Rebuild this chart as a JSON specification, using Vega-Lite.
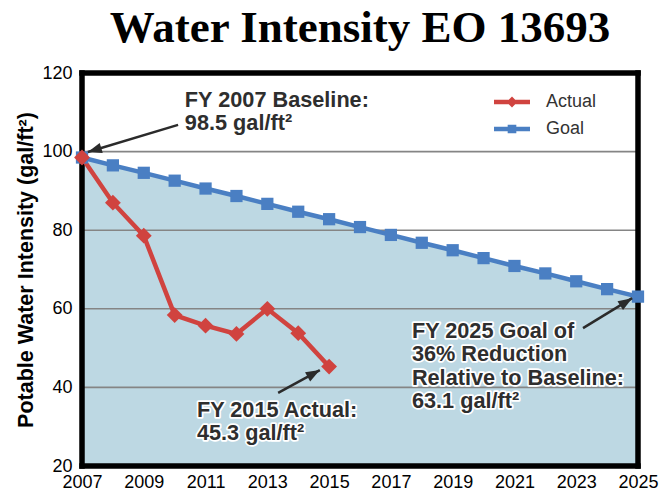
{
  "$schema": "https://vega.github.io/schema/vega-lite/v6.json",
  "width": 556,
  "height": 393,
  "autosize": "none",
  "padding": {"left": 82, "top": 73, "right": 24, "bottom": 29},
  "background": "white",
  "title": {"text": "Water Intensity EO 13693", "font": "Liberation Serif", "fontSize": 45, "fontWeight": "bold", "color": "black", "anchor": "middle", "frame": "group", "baseline": "alphabetic", "offset": -23},
  "config": {
    "view": {"stroke": null},
    "font": "Liberation Sans",
    "axis": {"grid": false, "ticks": false, "domain": false, "labelFont": "Liberation Sans", "labelFontSize": 18, "labelColor": "black", "titleFont": "Liberation Sans", "titleColor": "black"},
    "axisX": {"labelPadding": 7, "labelFlush": false, "labelOverlap": false},
    "axisY": {"labelPadding": 10, "titleFontSize": 21.5, "titleFontWeight": "bold", "titlePadding": 4}
  },
  "datasets": {
    "series": [
      {"year": 2007, "value": 98.5, "series": "Goal"},
      {"year": 2008, "value": 96.5, "series": "Goal"},
      {"year": 2009, "value": 94.6, "series": "Goal"},
      {"year": 2010, "value": 92.6, "series": "Goal"},
      {"year": 2011, "value": 90.6, "series": "Goal"},
      {"year": 2012, "value": 88.7, "series": "Goal"},
      {"year": 2013, "value": 86.7, "series": "Goal"},
      {"year": 2014, "value": 84.7, "series": "Goal"},
      {"year": 2015, "value": 82.8, "series": "Goal"},
      {"year": 2016, "value": 80.8, "series": "Goal"},
      {"year": 2017, "value": 78.8, "series": "Goal"},
      {"year": 2018, "value": 76.8, "series": "Goal"},
      {"year": 2019, "value": 74.9, "series": "Goal"},
      {"year": 2020, "value": 72.9, "series": "Goal"},
      {"year": 2021, "value": 70.9, "series": "Goal"},
      {"year": 2022, "value": 69.0, "series": "Goal"},
      {"year": 2023, "value": 67.0, "series": "Goal"},
      {"year": 2024, "value": 65.0, "series": "Goal"},
      {"year": 2025, "value": 63.1, "series": "Goal"},
      {"year": 2007, "value": 98.5, "series": "Actual"},
      {"year": 2008, "value": 87.0, "series": "Actual"},
      {"year": 2009, "value": 78.6, "series": "Actual"},
      {"year": 2010, "value": 58.4, "series": "Actual"},
      {"year": 2011, "value": 55.7, "series": "Actual"},
      {"year": 2012, "value": 53.6, "series": "Actual"},
      {"year": 2013, "value": 60.0, "series": "Actual"},
      {"year": 2014, "value": 53.8, "series": "Actual"},
      {"year": 2015, "value": 45.3, "series": "Actual"}
    ],
    "grid": [{"value": 40}, {"value": 60}, {"value": 80}, {"value": 100}],
    "arrows": [
      {"arrow": "baseline", "year": 2010.11, "value": 106.8, "year2": 2007.19, "value2": 99.9},
      {"arrow": "actual", "year": 2013.35, "value": 38.6, "year2": 2014.70, "value2": 44.4},
      {"arrow": "goal", "year": 2023.22, "value": 55.1, "year2": 2024.81, "value2": 62.7}
    ],
    "notes": [
      {"text": "FY 2007 Baseline:\n98.5 gal/ft²", "year": 2010.33, "value": 115.7},
      {"text": "FY 2015 Actual:\n45.3 gal/ft²", "year": 2010.72, "value": 36.8},
      {"text": "FY 2025 Goal of\n36% Reduction\nRelative to Baseline:\n63.1 gal/ft²", "year": 2017.68, "value": 56.9}
    ]
  },
  "layer": [
    {
      "data": {"name": "series"},
      "transform": [{"filter": "datum.series === 'Goal'"}],
      "mark": {"type": "area", "color": "#bdd8e3"},
      "encoding": {
        "x": {"field": "year", "type": "quantitative", "scale": {"domain": [2007, 2025], "nice": false},
          "axis": {"title": null, "values": [2007, 2009, 2011, 2013, 2015, 2017, 2019, 2021, 2023, 2025], "format": "d"}},
        "y": {"field": "value", "type": "quantitative", "scale": {"domain": [20, 120], "nice": false, "zero": false},
          "axis": {"title": "Potable Water Intensity (gal/ft²)", "values": [20, 40, 60, 80, 100, 120]}},
        "y2": {"datum": 20}
      }
    },
    {
      "data": {"name": "grid"},
      "mark": {"type": "rule", "color": "#858585", "strokeWidth": 1.6},
      "encoding": {
        "y": {"field": "value", "type": "quantitative", "title": "Potable Water Intensity (gal/ft²)"}
      }
    },
    {
      "data": {"values": [{}]},
      "mark": {"type": "rule", "color": "black", "strokeWidth": 5.5, "strokeCap": "square"},
      "encoding": {"x": {"datum": 2007, "type": "quantitative"}}
    },
    {
      "data": {"values": [{}]},
      "mark": {"type": "rule", "color": "black", "strokeWidth": 5.5, "strokeCap": "square"},
      "encoding": {"x": {"datum": 2025, "type": "quantitative"}}
    },
    {
      "data": {"values": [{}]},
      "mark": {"type": "rule", "color": "black", "strokeWidth": 5.5, "strokeCap": "square"},
      "encoding": {"y": {"datum": 120, "type": "quantitative"}}
    },
    {
      "data": {"values": [{}]},
      "mark": {"type": "rule", "color": "black", "strokeWidth": 5.5, "strokeCap": "square"},
      "encoding": {"y": {"datum": 20, "type": "quantitative"}}
    },
    {
      "data": {"name": "series"},
      "mark": {"type": "line", "strokeWidth": 4.5},
      "encoding": {
        "x": {"field": "year", "type": "quantitative"},
        "y": {"field": "value", "type": "quantitative", "title": "Potable Water Intensity (gal/ft²)"},
        "color": {"field": "series", "type": "nominal", "scale": {"domain": ["Actual", "Goal"], "range": ["#d0433f", "#4a7fc3"]},
          "legend": {"orient": "none", "legendX": 412, "legendY": 11, "title": null, "symbolSize": 1296, "labelFontSize": 18, "labelColor": "#333333", "labelFont": "Liberation Sans", "labelOffset": 16, "rowPadding": -11, "padding": 0, "symbolStrokeWidth": 0,
            "encode": {"symbols": {"update": {"shape": {"signal": "datum.value === 'Actual' ? 'M-1,-0.12H1V0.12H-1Z M0,-0.3L0.3,0L0,0.3L-0.3,0Z' : 'M-1,-0.12H1V0.12H-1Z M-0.24,-0.24H0.24V0.24H-0.24Z'"}, "fill": {"signal": "datum.value === 'Actual' ? '#d0433f' : '#4a7fc3'"}, "fillOpacity": {"value": 1}, "opacity": {"value": 1}, "strokeWidth": {"value": 0}, "size": {"value": 1296}}}}}}
      }
    },
    {
      "data": {"name": "series"},
      "transform": [{"filter": "datum.series === 'Goal'"}],
      "mark": {"type": "point", "filled": true, "opacity": 1, "shape": "square", "size": 150, "color": "#4a7fc3"},
      "encoding": {
        "x": {"field": "year", "type": "quantitative"},
        "y": {"field": "value", "type": "quantitative", "title": "Potable Water Intensity (gal/ft²)"}
      }
    },
    {
      "data": {"name": "series"},
      "transform": [{"filter": "datum.series === 'Actual'"}],
      "mark": {"type": "point", "filled": true, "opacity": 1, "shape": "diamond", "size": 250, "color": "#d0433f"},
      "encoding": {
        "x": {"field": "year", "type": "quantitative"},
        "y": {"field": "value", "type": "quantitative", "title": "Potable Water Intensity (gal/ft²)"}
      }
    },
    {
      "data": {"name": "arrows"},
      "mark": {"type": "rule", "color": "#2b2b2b", "strokeWidth": 2.5},
      "encoding": {
        "x": {"field": "year", "type": "quantitative"},
        "y": {"field": "value", "type": "quantitative", "title": "Potable Water Intensity (gal/ft²)"},
        "x2": {"field": "year2"},
        "y2": {"field": "value2"}
      }
    },
    {
      "data": {"name": "arrows"},
      "transform": [{"filter": "datum.arrow === 'baseline'"}],
      "mark": {"type": "point", "filled": true, "color": "#2b2b2b", "opacity": 1, "shape": "M0,0L-2,-0.75L-2,0.75Z", "size": 196, "angle": 163},
      "encoding": {
        "x": {"field": "year2", "type": "quantitative"},
        "y": {"field": "value2", "type": "quantitative", "title": "Potable Water Intensity (gal/ft²)"}
      }
    },
    {
      "data": {"name": "arrows"},
      "transform": [{"filter": "datum.arrow === 'actual'"}],
      "mark": {"type": "point", "filled": true, "color": "#2b2b2b", "opacity": 1, "shape": "M0,0L-2,-0.75L-2,0.75Z", "size": 196, "angle": 331},
      "encoding": {
        "x": {"field": "year2", "type": "quantitative"},
        "y": {"field": "value2", "type": "quantitative", "title": "Potable Water Intensity (gal/ft²)"}
      }
    },
    {
      "data": {"name": "arrows"},
      "transform": [{"filter": "datum.arrow === 'goal'"}],
      "mark": {"type": "point", "filled": true, "color": "#2b2b2b", "opacity": 1, "shape": "M0,0L-2,-0.75L-2,0.75Z", "size": 196, "angle": 328},
      "encoding": {
        "x": {"field": "year2", "type": "quantitative"},
        "y": {"field": "value2", "type": "quantitative", "title": "Potable Water Intensity (gal/ft²)"}
      }
    },
    {
      "data": {"name": "notes"},
      "mark": {"type": "text", "align": "left", "baseline": "top", "lineBreak": "\n", "lineHeight": 23.3, "font": "Liberation Sans", "fontSize": 21.7, "fontWeight": "bold", "color": "white", "stroke": "white", "strokeWidth": 3.5, "strokeJoin": "round"},
      "encoding": {
        "x": {"field": "year", "type": "quantitative"},
        "y": {"field": "value", "type": "quantitative", "title": "Potable Water Intensity (gal/ft²)"},
        "text": {"field": "text"}
      }
    },
    {
      "data": {"name": "notes"},
      "mark": {"type": "text", "align": "left", "baseline": "top", "lineBreak": "\n", "lineHeight": 23.3, "font": "Liberation Sans", "fontSize": 21.7, "fontWeight": "bold", "color": "#2e2e2e"},
      "encoding": {
        "x": {"field": "year", "type": "quantitative"},
        "y": {"field": "value", "type": "quantitative", "title": "Potable Water Intensity (gal/ft²)"},
        "text": {"field": "text"}
      }
    }
  ]
}
